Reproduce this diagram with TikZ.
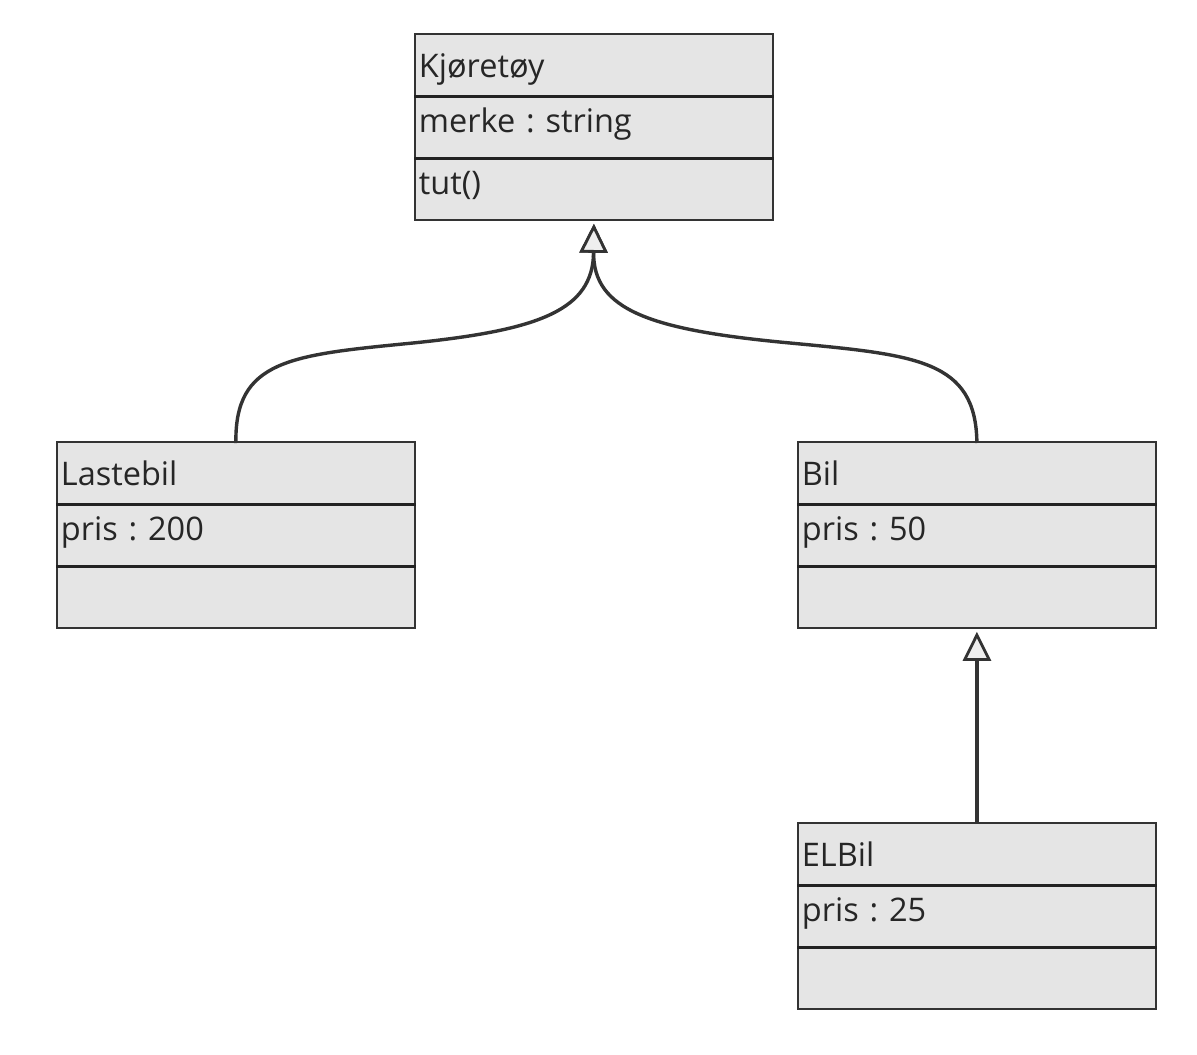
\documentclass[tikz,border=0pt]{standalone}
\usepackage{fontspec}
\setmainfont{Open Sans}
\usetikzlibrary{arrows.meta}
\definecolor{boxfill}{HTML}{E5E5E5}
\definecolor{boxline}{HTML}{333333}
\definecolor{sepline}{HTML}{222222}
\definecolor{tipfill}{HTML}{EFEFEF}
\definecolor{textcol}{HTML}{262626}
\frenchspacing
\begin{document}
\begin{tikzpicture}[x=1pt,y=-1pt,
  comp/.style={rectangle, draw=boxline, fill=boxfill, line width=1.8pt,
    minimum width=358pt, minimum height=62pt, inner ysep=0pt, inner xsep=4pt,
    text width=350pt, align=left, anchor=north west,
    font=\fontsize{32.5}{38}\selectfont, text=textcol},
  namerow/.style={comp, text height=44pt, text depth=18pt},
  attrrow/.style={comp, text height=37pt, text depth=25pt},
  sepl/.style={draw=sepline, line width=3.2pt},
  inh/.style={draw=boxline, line width=3.4pt, shorten >=3pt,
    -{Triangle[width=28pt, length=29pt, fill=tipfill, line width=2.8pt]}},
]
\useasboundingbox[fill=white] (0,0) rectangle (1197,1055);

% Kjoretoy
\node[namerow] (veh-n) at (414,33) {Kjøretøy};
\node[attrrow] (veh-a) at (414,95) {merke : string};
\node[attrrow] (veh-m) at (414,157) {tut()};
\draw[sepl] (veh-n.south west) -- (veh-n.south east);
\draw[sepl] (veh-a.south west) -- (veh-a.south east);

% Lastebil
\node[namerow] (last-n) at (56,441) {Lastebil};
\node[attrrow] (last-a) at (56,503) {pris : 200};
\node[attrrow] (last-m) at (56,565) {};
\draw[sepl] (last-n.south west) -- (last-n.south east);
\draw[sepl] (last-a.south west) -- (last-a.south east);

% Bil
\node[namerow] (bil-n) at (797,441) {Bil};
\node[attrrow] (bil-a) at (797,503) {pris : 50};
\node[attrrow] (bil-m) at (797,565) {};
\draw[sepl] (bil-n.south west) -- (bil-n.south east);
\draw[sepl] (bil-a.south west) -- (bil-a.south east);

% ELBil
\node[namerow] (el-n) at (797,822) {ELBil};
\node[attrrow] (el-a) at (797,884) {pris : 25};
\node[attrrow] (el-m) at (797,946) {};
\draw[sepl] (el-n.south west) -- (el-n.south east);
\draw[sepl] (el-a.south west) -- (el-a.south east);

% connectors
\draw[inh] ([yshift=-2pt]last-n.north) .. controls (234.5,360) and (290,355) .. (413,343)
  .. controls (540,330) and (593,310) .. (veh-m.south);
\draw[inh] ([yshift=-2pt]bil-n.north) .. controls (976,360) and (917,355) .. (790,343)
  .. controls (650,330) and (593,310) .. (veh-m.south);
\draw[inh] ([yshift=-2pt]el-n.north) -- (bil-m.south);
\end{tikzpicture}
\end{document}
